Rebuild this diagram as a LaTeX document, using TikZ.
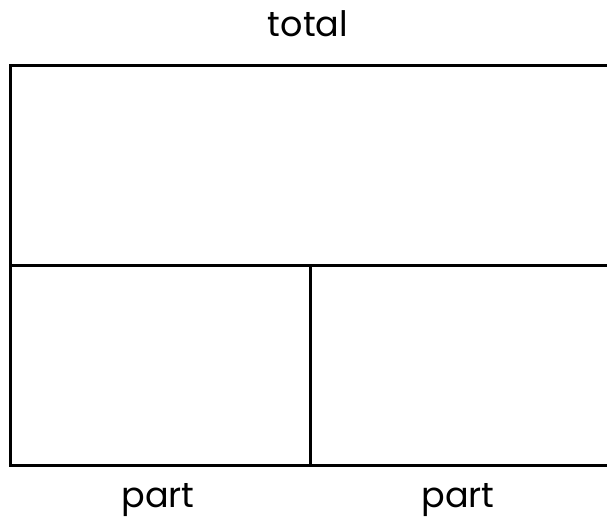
\documentclass[tikz,border=0pt]{standalone}
\usepackage{fontspec}
\setmainfont{Poppins}
\usetikzlibrary{positioning}

\begin{document}
\begin{tikzpicture}[
  x=1pt, y=-1pt,
  font=\fontsize{35}{40}\selectfont,
  bar/.style={rectangle, draw, line width=3pt, inner sep=0pt, anchor=north west},
  lbl/.style={anchor=base, inner sep=0pt}
]
\useasboundingbox (0,0) rectangle (607,527);
\clip (0,0) rectangle (607,527);

% Bars
\node[bar, minimum width=600pt, minimum height=200pt] (whole) at (9,64) {};
\node[bar, minimum width=300pt, minimum height=200pt] (partA) at (9,264) {};
\node[bar, minimum width=300pt, minimum height=200pt] (partB) at (309,264) {};

% Labels
\node[lbl] (totallbl) at (308,37) {total};
\node[lbl] (partAlbl) at (158,507) {part};
\node[lbl] (partBlbl) at (458,507) {part};

\end{tikzpicture}
\end{document}
